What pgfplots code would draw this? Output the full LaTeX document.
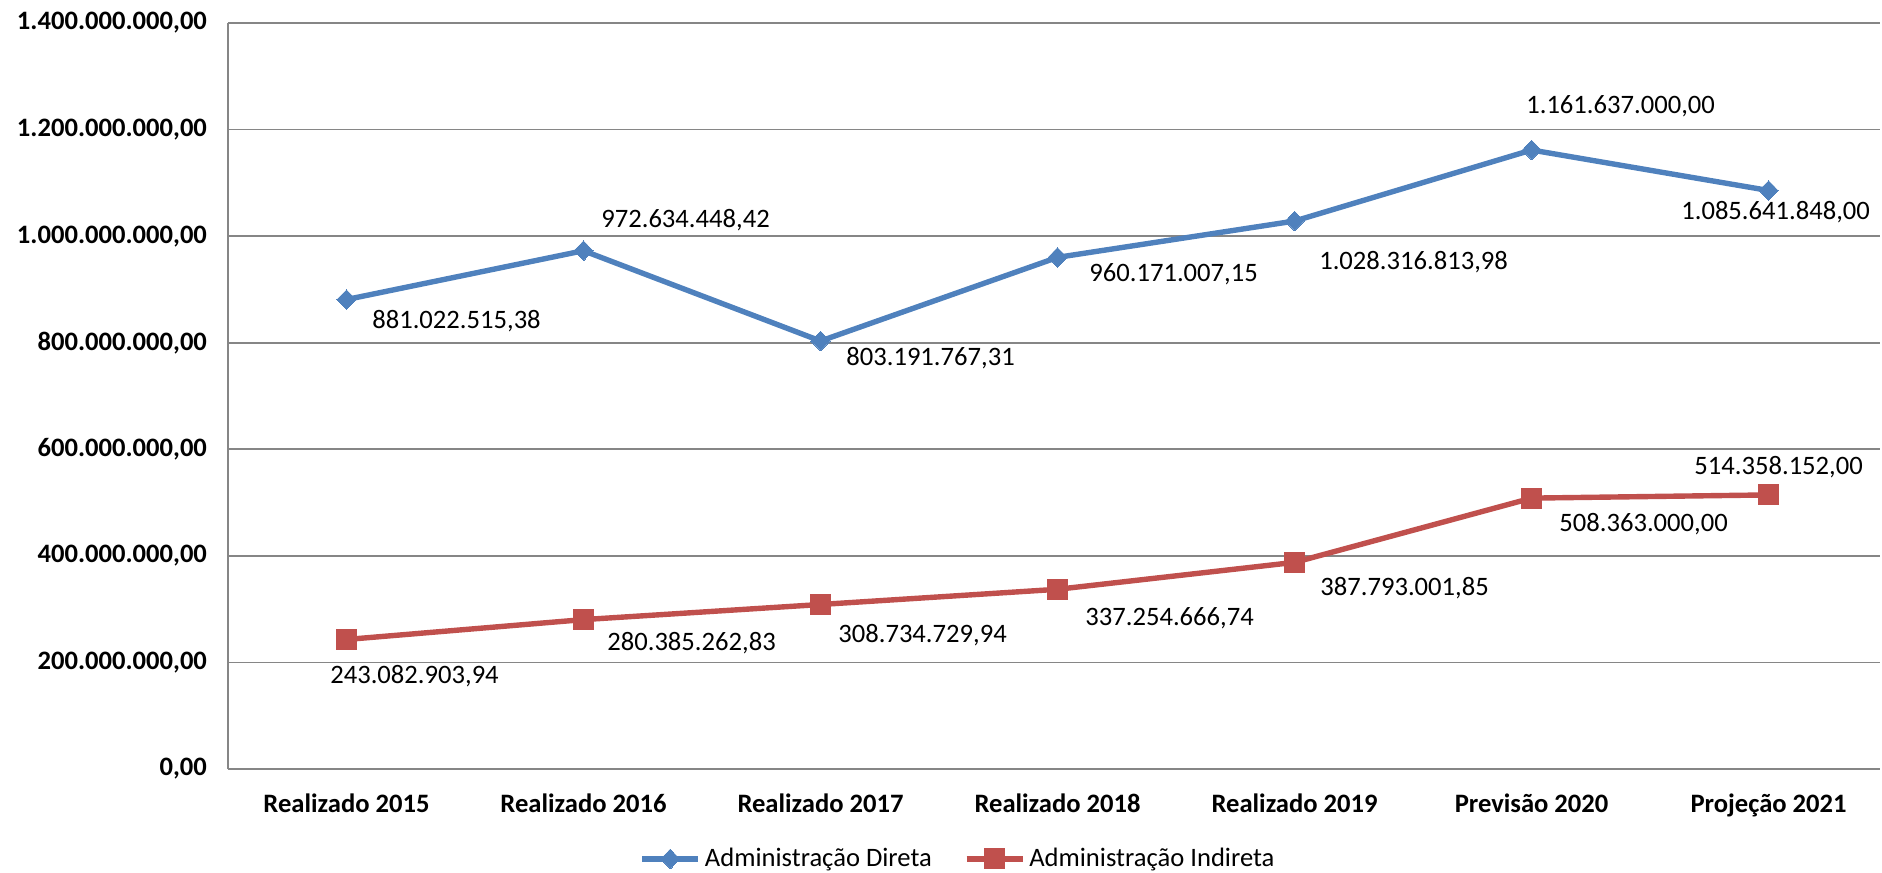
\documentclass[border=0pt]{standalone}
\usepackage{pgfplots}
\usepackage{pgfplotstable}
\pgfplotsset{compat=1.18}
\usepackage{fontspec}
\setmainfont{Carlito}
\definecolor{serA}{RGB}{79,129,189}
\definecolor{serB}{RGB}{192,80,77}
\definecolor{gridc}{RGB}{134,134,134}

\pgfplotstableread{
x y lab dx dy
0.5 881022515.38 881.022.515,38 55 -11
1.5 972634448.42 972.634.448,42 51 15.5
2.5 803191767.31 803.191.767,31 55 -8.5
3.5 960171007.15 960.171.007,15 58 -8.5
4.5 1028316813.98 1.028.316.813,98 59.5 -20.5
5.5 1161637000.00 1.161.637.000,00 44.5 22
6.5 1085641848.00 1.085.641.848,00 3.5 -11
}\direta

\pgfplotstableread{
x y lab dx dy
0.5 243082903.94 243.082.903,94 34 -18.5
1.5 280385262.83 280.385.262,83 54 -12
2.5 308734729.94 308.734.729,94 51 -15.5
3.5 337254666.74 337.254.666,74 56 -14.5
4.5 387793001.85 387.793.001,85 55 -13
5.5 508363000.00 508.363.000,00 56 -13
6.5 514358152.00 514.358.152,00 5 14
}\indireta

\begin{document}
\begin{tikzpicture}
\begin{axis}[
  at={(0,0)}, anchor=south west,
  scale only axis,
  width=826pt, height=373pt,
  xmin=0, xmax=6.97,
  ymin=0, ymax=1400000000,
  scaled y ticks=false,
  xtick={0.5,1.5,2.5,3.5,4.5,5.5,6.5},
  xticklabels={Realizado 2015,Realizado 2016,Realizado 2017,Realizado 2018,Realizado 2019,Previsão 2020,Projeção 2021},
  ytick={0,200000000,400000000,600000000,800000000,1000000000,1200000000,1400000000},
  yticklabels={{0,00},{200.000.000,00},{400.000.000,00},{600.000.000,00},{800.000.000,00},{1.000.000.000,00},{1.200.000.000,00},{1.400.000.000,00}},
  major tick length=0pt,
  axis x line*=bottom,
  axis y line*=left,
  axis line style={gridc, line width=0.8pt, -},
  ymajorgrids,
  grid style={gridc, line width=0.8pt},
  tick label style={font=\fontsize{13.3}{15}\selectfont\bfseries},
  xticklabel style={yshift=-9pt},
  yticklabel style={xshift=-7pt},
  legend columns=2,
  legend style={draw=none, at={(0.4425,-0.1206)}, anchor=center,
    font=\fontsize{13.3}{15}\selectfont,
    /tikz/every even column/.append style={column sep=14pt}},
  legend image code/.code={
    \draw[#1, mark repeat=2, mark phase=2] plot coordinates {(0pt,0pt) (14pt,0pt) (28pt,0pt)};
  },
  point meta=explicit symbolic,
  nodes near coords,
  visualization depends on={\thisrow{dx} \as \dx},
  visualization depends on={\thisrow{dy} \as \dy},
  nodes near coords style={anchor=center, xshift=\dx pt, yshift=\dy pt,
    font=\fontsize{13.3}{15}\selectfont, text=black},
  clip=false,
]
\addplot[serA, line width=2.7pt, mark=diamond*, mark size=4.9pt, mark options={solid, fill=serA, line width=0pt, xscale=1.3}]
  table[x=x, y=y, meta=lab] {\direta};
\addlegendentry{Administração Direta}
\addplot[serB, line width=2.7pt, mark=square*, mark size=5pt, mark options={solid, fill=serB, line width=0pt}]
  table[x=x, y=y, meta=lab] {\indireta};
\addlegendentry{Administração Indireta}
\end{axis}
\pgfresetboundingbox
\path[use as bounding box] (-114pt,-51.5pt) rectangle (827pt,384.5pt);
\end{tikzpicture}
\end{document}
